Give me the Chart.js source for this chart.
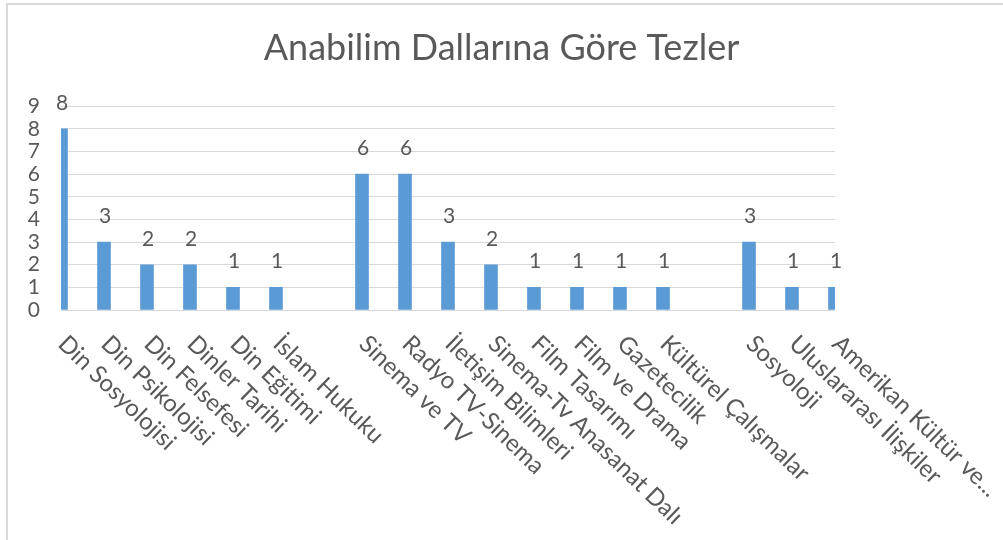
<!DOCTYPE html>
<html>
<head>
<meta charset="utf-8">
<script src="https://cdn.jsdelivr.net/npm/chart.js@4/dist/chart.umd.min.js"></script>
<style>
  html, body { margin: 0; padding: 0; background: #fff; }
  #wrap { width: 1003px; height: 540px; }
</style>
</head>
<body>
<div id="wrap"><canvas id="thesisChart" width="1003" height="540"></canvas></div>
<script>
// departments, empty strings are the gaps between groups
const departments = [
  'Din Sosyolojisi', 'Din Psikolojisi', 'Din Felsefesi', 'Dinler Tarihi', 'Din Eğitimi', 'İslam Hukuku',
  '',
  'Sinema ve TV', 'Radyo TV-Sinema', 'İletişim Bilimleri', 'Sinema-Tv Anasanat Dalı', 'Film Tasarımı',
  'Film ve Drama', 'Gazetecilik', 'Kültürel Çalışmalar',
  '',
  'Sosyoloji', 'Uluslararası İlişkiler', 'Amerikan Kültür ve...'
];
const thesisCounts = [8, 3, 2, 2, 1, 1, null, 6, 6, 3, 2, 1, 1, 1, 1, null, 3, 1, 1];
const yMin = 0;
const yMax = 9;

const textColor = '#595959';
const labelAngle = 44 * Math.PI / 180;

const frame = {
  id: 'frame',
  beforeDraw(chart) {
    const c = chart.ctx;
    c.save();
    c.fillStyle = '#fff';
    c.fillRect(0, 0, chart.width, chart.height);
    c.strokeStyle = '#d9d9d9';
    c.lineWidth = 2;
    c.beginPath();
    c.moveTo(7, chart.height);
    c.lineTo(7, 4);
    c.lineTo(chart.width, 4);
    c.stroke();
    c.restore();
  }
};

const labels = {
  id: 'labels',
  afterDraw(chart) {
    const c = chart.ctx;
    const xs = chart.scales.x;
    const ys = chart.scales.y;
    c.save();
    c.fillStyle = textColor;
    // values above bars
    c.font = '21px Lato';
    c.textAlign = 'center';
    c.textBaseline = 'alphabetic';
    thesisCounts.forEach((v, i) => {
      if (v === null) return;
      c.fillText(String(v), xs.getPixelForValue(i) + 1, ys.getPixelForValue(v) - 19);
    });
    // rotated category names, reading down to the right
    c.font = '24px Lato';
    c.textAlign = 'left';
    c.textBaseline = 'middle';
    departments.forEach((name, i) => {
      if (!name) return;
      c.save();
      c.translate(xs.getPixelForValue(i) + 1, 340);
      c.rotate(labelAngle);
      c.fillText(name, 0, 0);
      c.restore();
    });
    c.restore();
  }
};

new Chart(document.getElementById('thesisChart'), {
  type: 'bar',
  data: {
    labels: departments,
    datasets: [{
      data: thesisCounts,
      backgroundColor: '#5b9bd5',
      barThickness: 13
    }]
  },
  options: {
    responsive: false,
    animation: false,
    devicePixelRatio: 1,
    layout: { padding: 0 },
    plugins: {
      legend: { display: false },
      tooltip: { enabled: false },
      title: {
        display: true,
        text: 'Anabilim Dallarına Göre Tezler',
        color: textColor,
        font: { family: 'Lato', size: 36, weight: 'normal' },
        padding: { top: 27, bottom: 36 }
      }
    },
    scales: {
      x: {
        offset: false,
        grid: { display: false },
        border: { display: false },
        ticks: { display: false },
        afterFit(scale) { scale.height = 230; }
      },
      y: {
        min: yMin,
        max: yMax,
        ticks: {
          stepSize: 1,
          autoSkip: false,
          color: textColor,
          padding: 21,
          font: { family: 'Lato', size: 21 }
        },
        grid: { color: '#d9d9d9', drawTicks: false },
        border: { display: false },
        afterFit(scale) { scale.width = 61; }
      },
      // empty right-hand axis only to keep the plot narrow
      yRight: {
        position: 'right',
        min: yMin,
        max: yMax,
        ticks: { display: false },
        grid: { display: false },
        border: { display: false },
        afterFit(scale) { scale.width = 168; }
      }
    }
  },
  plugins: [frame, labels]
});
</script>
</body>
</html>
